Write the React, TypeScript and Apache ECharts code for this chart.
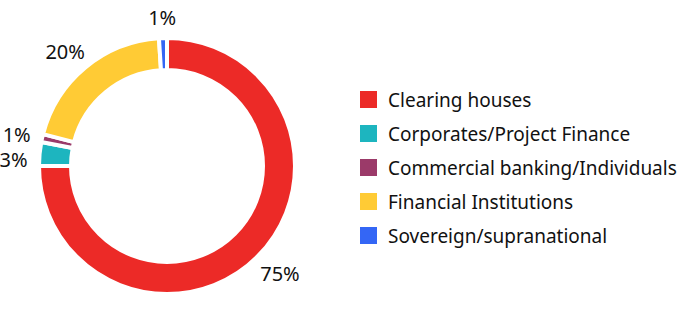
import React, { useEffect, useRef } from 'react';
import * as echarts from 'echarts';

const categories = [
  'Clearing houses',
  'Corporates/Project Finance',
  'Commercial banking/Individuals',
  'Financial Institutions',
  'Sovereign/supranational',
];
const shares = [75, 3, 1, 20, 1];
const colors = ['#EC2A27', '#1DB5BF', '#9B3A69', '#FFCB35', '#3466F5'];

const CX = 167;
const CY = 166;
const R_IN = 96;
const R_OUT = 128;
const LABEL_R = 140;
const LABEL_H = 20;
const MIN_GAP = 25;
const FONT = '"Noto Sans", sans-serif';

export default function App() {
  const ref = useRef<HTMLDivElement>(null);
  useEffect(() => {
    const chart = echarts.init(ref.current as HTMLDivElement, null, { renderer: 'svg' });
    const total = shares.reduce((a, b) => a + b, 0);
    const mids = shares.map((v, i) => {
      const before = shares.slice(0, i).reduce((a, b) => a + b, 0);
      return ((before + v / 2) / total) * 2 * Math.PI;
    });
    // preliminary vertical label centres, then push apart labels on the same side
    const ys = mids.map((a) => CY - LABEL_R * Math.cos(a) - (Math.cos(a) * LABEL_H) / 2 + 1);
    [-1, 1].forEach((side) => {
      const idx = mids
        .map((a, i) => i)
        .filter((i) => Math.sign(Math.sin(mids[i])) === side)
        .sort((p, q) => ys[p] - ys[q]);
      for (let k = 1; k < idx.length; k++) {
        const prev = ys[idx[k - 1]];
        if (ys[idx[k]] - prev < MIN_GAP) ys[idx[k]] = prev + MIN_GAP;
      }
    });
    chart.setOption({
      animation: false,
      legend: {
        orient: 'vertical',
        left: 360,
        top: 90,
        padding: 0,
        itemWidth: 17,
        itemHeight: 17,
        itemGap: 15,
        icon: 'rect',
        selectedMode: false,
        itemStyle: { borderWidth: 0 },
        textStyle: { fontSize: 19, color: '#111', fontFamily: FONT, padding: [0, 0, 0, 6] },
        data: categories,
      },
      series: [
        {
          type: 'pie',
          center: [CX, CY],
          radius: [R_IN, R_OUT],
          startAngle: 90,
          clockwise: true,
          avoidLabelOverlap: false,
          silent: true,
          itemStyle: { borderColor: '#ffffff', borderWidth: 4 },
          label: {
            show: true,
            position: 'outside',
            formatter: '{c}%',
            fontSize: 20,
            lineHeight: 18,
            color: '#111',
            fontFamily: FONT,
          },
          labelLine: { show: false },
          labelLayout: (p: any) => {
            const a = mids[p.dataIndex];
            const s = Math.sin(a);
            const w = p.labelRect.width;
            return {
              x: CX + LABEL_R * s + (s * w) / 2,
              y: ys[p.dataIndex],
              align: 'center',
              verticalAlign: 'middle',
            };
          },
          emphasis: { disabled: true },
          data: categories.map((name, i) => ({
            name,
            value: shares[i],
            itemStyle: { color: colors[i] },
          })),
        },
      ],
    });
    return () => chart.dispose();
  }, []);
  return (
    <div
      ref={ref}
      style={{ position: 'fixed', left: 0, top: 0, width: 680, height: 332, background: '#fff' }}
    />
  );
}
